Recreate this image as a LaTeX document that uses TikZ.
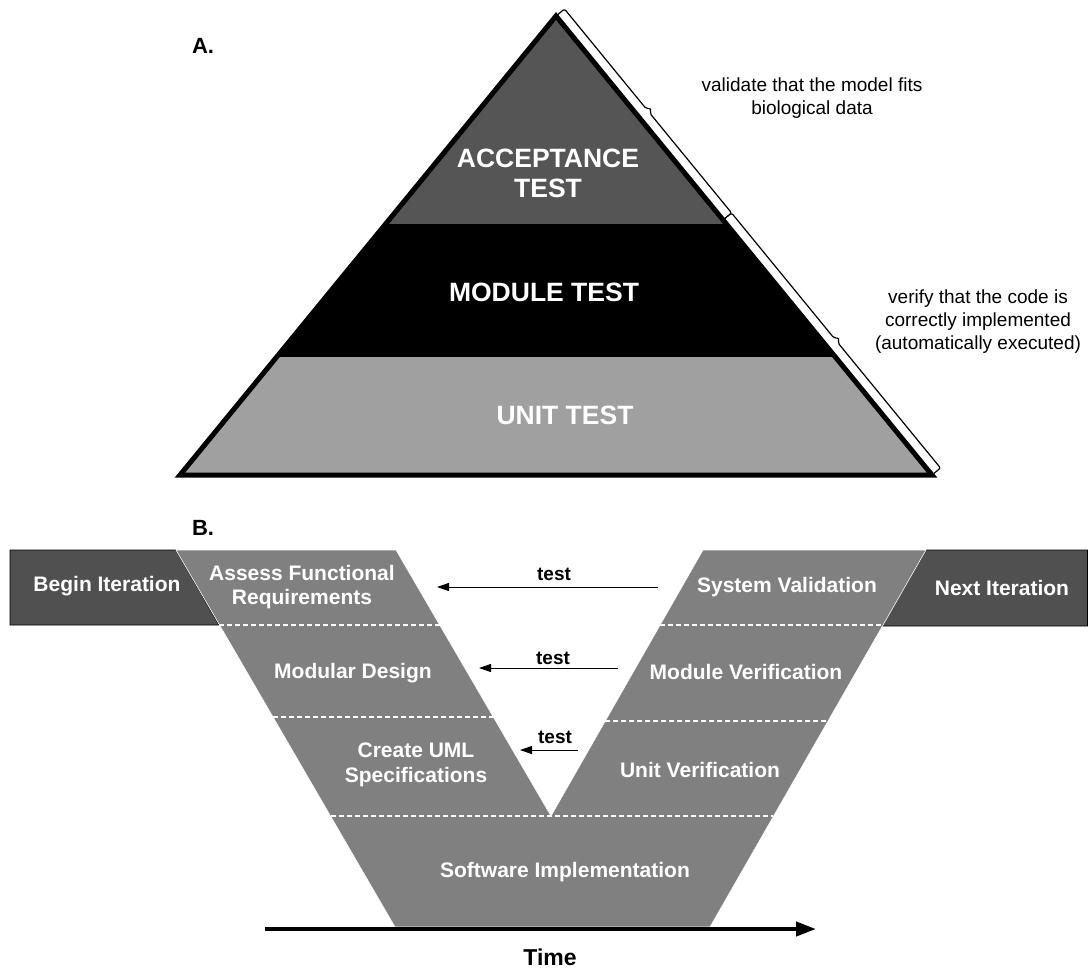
\documentclass[tikz,border=0pt]{standalone}
\usepackage{fontspec}
\setmainfont{Liberation Sans}
\usetikzlibrary{arrows.meta}
\definecolor{accgray}{HTML}{555555}
\definecolor{unitgray}{HTML}{A0A0A0}
\definecolor{vgray}{HTML}{808080}
\definecolor{itergray}{HTML}{505050}
\tikzset{
  tierlabel/.style={text=white,font=\fontsize{26.5}{30}\selectfont\bfseries,align=center},
  note/.style={font=\fontsize{19}{23}\selectfont,align=center},
  phase/.style={text=white,font=\fontsize{21}{24.5}\selectfont\bfseries,align=center},
  testlabel/.style={font=\fontsize{19}{22}\selectfont\bfseries},
  testarrow/.style={line width=1pt,-{Triangle[length=12pt,width=8pt]}},
  divider/.style={white,line width=1.2pt,dash pattern=on 5pt off 3pt},
  bracefill/.style={fill=white,draw=black,line width=1.2pt,rounded corners=2pt,line join=round},
  panel/.style={font=\fontsize{22}{26}\selectfont\bfseries},
  iterbox/.style={fill=itergray,draw=black,line width=0.8pt},
}
\begin{document}
\begin{tikzpicture}[x=1pt,y=-1pt]
\useasboundingbox (0,0) rectangle (1088,978);

% ---------- A. test pyramid ----------
\coordinate (apex) at (556,16);
\coordinate (bl) at (180,475);
\coordinate (br) at (932,475);

% braces along the right flank, each with a small tick at its middle
\path[bracefill] (556,16) -- (564.5,9) -- (646.1,108.7) -- (651.1,108.5)
  -- (649.9,113.3) -- (731.6,213) -- (723.1,220);
\path[bracefill] (723.1,220) -- (731.6,213) -- (834.1,338.2) -- (839.1,338)
  -- (837.9,342.8) -- (940.5,468) -- (932,475);

\fill[accgray] (apex) -- (726.4,224) -- (385.6,224) -- cycle;
\fill[black] (385.6,224) -- (726.4,224) -- (835.3,357) -- (276.7,357) -- cycle;
\fill[unitgray] (276.7,357) -- (835.3,357) -- (br) -- (bl) -- cycle;
\draw[line width=5pt,line join=miter] (apex) -- (br) -- (bl) -- cycle;

\node[tierlabel] (acc) at (548,173) {ACCEPTANCE\\TEST};
\node[tierlabel] (mod) at (544,292) {MODULE TEST};
\node[tierlabel] (unit) at (565,415) {UNIT TEST};

\node[note] (valnote) at (812,98) {validate that the model fits\\biological data};
\node[note] (vernote) at (978,322) {verify that the code is\\correctly implemented\\(automatically executed)};

\node[panel] (pA) at (203,46) {A.};
\node[panel] (pB) at (203,528) {B.};

% ---------- B. V-model ----------
\path[iterbox] (10,550) -- (176,550) -- (219,625) -- (10,625) -- cycle;
\path[iterbox] (926,550) -- (1087.5,550) -- (1087.5,626) -- (882,626) -- cycle;

\path[fill=vgray,draw=white,line width=0.6pt]
  (176,550) -- (396,550) -- (551,816) -- (703,550) -- (926,550)
  -- (710,927) -- (395,927) -- cycle;

\draw[divider] (219,625) -- (440,625);
\draw[divider] (273,717) -- (493,717);
\draw[divider] (660,625) -- (882,625);
\draw[divider] (605,721) -- (828,721);
\draw[divider] (331,816) -- (773,816);

\node[phase] (beg) at (107,586) {Begin Iteration};
\node[phase] (assess) at (302,587) {Assess Functional\\Requirements};
\node[phase] (modd) at (353,673) {Modular Design};
\node[phase] (uml) at (416,765) {Create UML\\Specifications};
\node[phase] (sysv) at (787,587) {System Validation};
\node[phase] (modv) at (746,672) {Module Verification};
\node[phase] (unitv) at (700,770) {Unit Verification};
\node[phase] (impl) at (565,872) {Software Implementation};
\node[phase] (next) at (1002,588) {Next Iteration};

% test feedback arrows
\coordinate (t1s) at (658,587);
\coordinate (t1e) at (437,587);
\coordinate (t2s) at (618,668);
\coordinate (t2e) at (479,668);
\coordinate (t3s) at (578,750);
\coordinate (t3e) at (520,750);
\draw[testarrow] (t1s) -- (t1e);
\draw[testarrow] (t2s) -- (t2e);
\draw[testarrow] (t3s) -- (t3e);
\node[testlabel] (lt1) at (554,574) {test};
\node[testlabel] (lt2) at (553,658) {test};
\node[testlabel] (lt3) at (555,737) {test};

% time axis
\coordinate (ts) at (265,929);
\coordinate (te) at (816,929);
\draw[line width=4pt,-{Triangle[length=20pt,width=14pt]}] (ts) -- (te);
\node[font=\fontsize{23}{26}\selectfont\bfseries] (time) at (550,957) {Time};

\end{tikzpicture}
\end{document}
